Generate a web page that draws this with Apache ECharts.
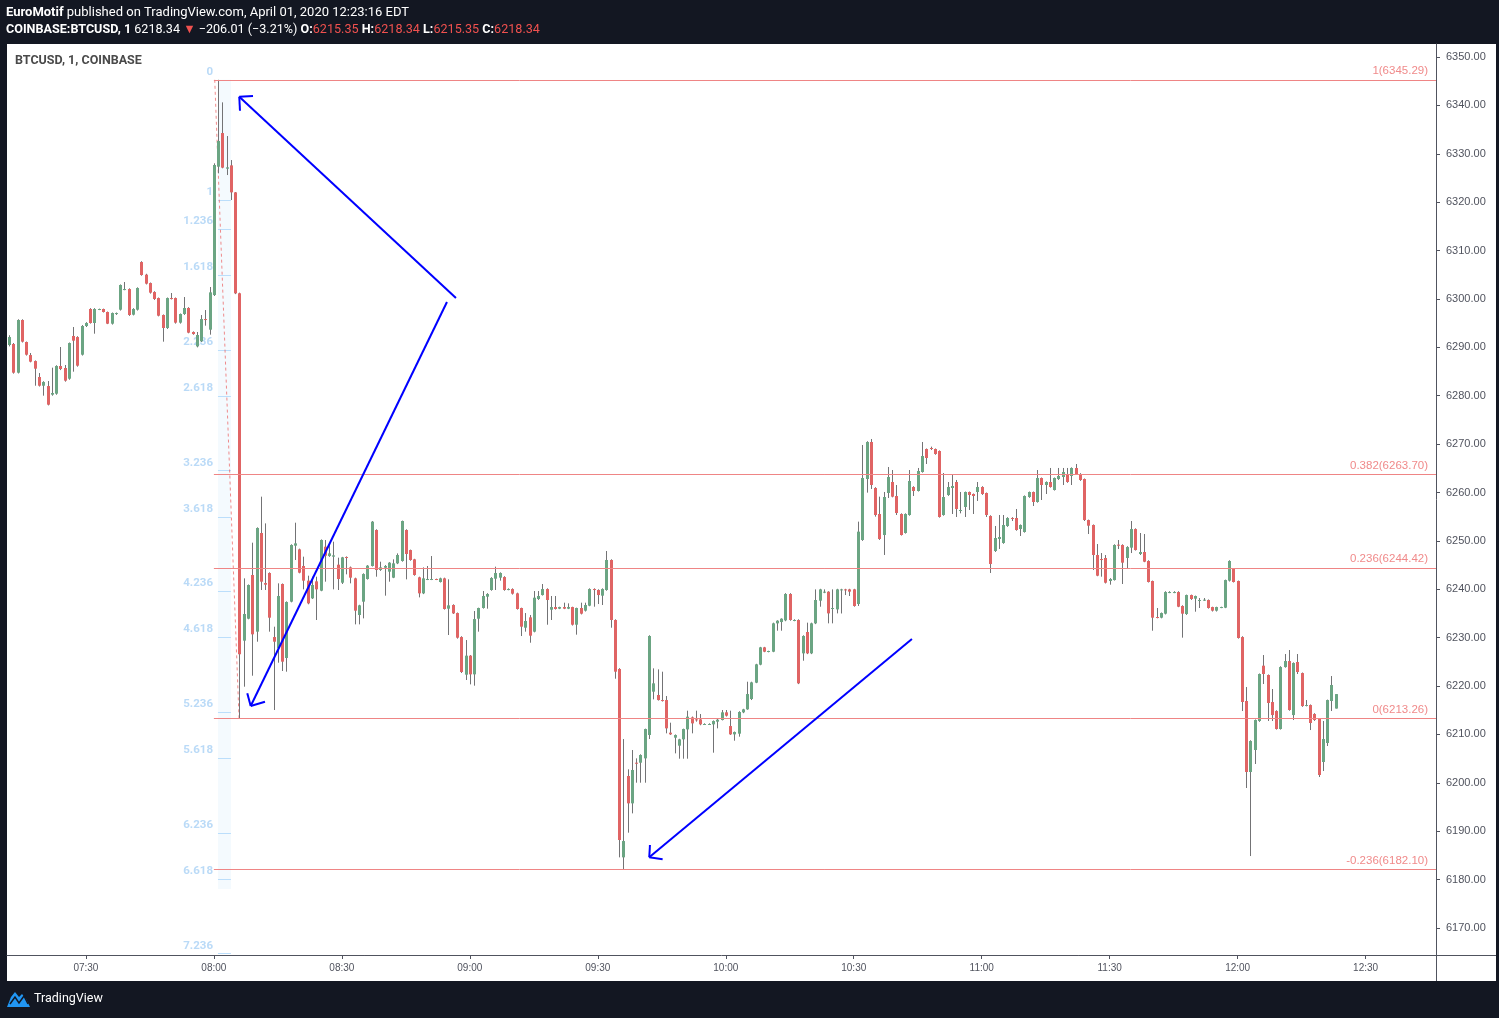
<!DOCTYPE html>
<html><head><meta charset="utf-8">
<script src="https://cdn.jsdelivr.net/npm/echarts@6/dist/echarts.min.js"></script>
<style>html,body{margin:0;padding:0;background:#131722;}#c{width:1499px;height:1018px;}</style>
</head><body><div id="c"></div>
<script>
// ---------- categories (1-minute bars, 07:12 .. 12:46) ----------
const startMinute = 7 * 60 + 12;
const slotCount = 335;
const times = [];
for (let i = 0; i < slotCount; i++) {
  const m = startMinute + i;
  times.push(String(Math.floor(m / 60)).padStart(2, '0') + ':' + String(m % 60).padStart(2, '0'));
}

// ---------- OHLC values (07:12 .. 12:23) ----------
const openP = [
6290.48,6290.69,6284.76,6295.65,6291.10,6288.41,6287.17,6283.87,6282.07,6282.00,
6280.22,6280.42,6286.14,6285.73,6283.52,6292.34,6292.13,6288.48,6294.41,6297.92,
6295.03,6297.78,6297.92,6297.30,6294.89,6296.89,6297.78,6301.91,6302.05,6296.75,
6297.78,6307.63,6305.02,6303.29,6301.43,6300.19,6296.68,6294.00,6300.19,6300.19,
6295.10,6296.89,6298.13,6293.17,6290.20,6291.24,6295.85,6293.65,6300.81,6327.34,
6334.29,6326.92,6327.61,6322.03,6301.16,6229.38,6233.92,6242.95,6231.24,6251.63,
6241.29,6243.36,6230.13,6227.79,6241.09,6225.80,6237.44,6249.01,6248.25,6244.81,
6241.78,6238.13,6241.64,6239.71,6248.80,6246.87,6246.74,6245.08,6241.36,6246.67,
6244.53,6242.26,6234.68,6237.44,6242.12,6244.81,6252.25,6243.98,6244.46,6243.64,
6242.40,6245.36,6245.84,6252.25,6248.11,6246.19,6242.47,6239.16,6242.05,6242.05,
6242.12,6241.50,6242.26,6235.99,6236.75,6235.09,6230.13,6222.35,6226.28,6222.42,
6233.92,6236.13,6238.47,6239.85,6242.19,6242.40,6242.53,6239.92,6240.05,6239.16,
6236.13,6232.06,6234.20,6231.24,6237.99,6238.81,6240.05,6235.78,6236.33,6235.99,
6236.33,6235.99,6236.33,6232.68,6236.13,6235.58,6236.61,6240.05,6239.85,6238.68,
6239.85,6246.05,6233.65,6223.52,6184.60,6201.41,6195.76,6204.16,6204.16,6205.06,
6209.88,6218.84,6218.15,6217.11,6217.11,6210.37,6209.33,6207.68,6208.99,6211.05,
6213.53,6213.12,6213.12,6212.09,6212.09,6212.09,6212.64,6212.98,6214.57,6211.74,
6210.02,6210.16,6214.57,6215.19,6217.32,6220.70,6224.42,6228.00,6227.10,6227.10,
6232.96,6233.23,6233.58,6239.02,6233.58,6233.65,6226.76,6231.17,6226.76,6232.96,
6237.64,6239.36,6239.50,6235.99,6235.85,6239.92,6239.98,6239.98,6239.99,6236.96,
6250.19,6262.79,6270.44,6260.93,6255.56,6251.22,6259.90,6262.17,6259.28,6255.56,
6251.63,6255.35,6261.14,6260.31,6264.24,6268.99,6269.20,6268.99,6268.58,6255.35,
6259.49,6260.93,6262.17,6256.25,6257.01,6260.11,6259.69,6260.11,6261.14,6259.90,
6255.15,6247.91,6250.39,6249.57,6253.08,6254.73,6254.73,6252.46,6251.84,6259.07,
6260.11,6258.04,6263.00,6261.55,6262.17,6260.52,6262.79,6263.21,6263.83,6263.41,
6265.07,6263.83,6262.79,6254.31,6253.28,6247.08,6246.25,6246.46,6241.71,6241.91,
6249.22,6249.15,6246.46,6248.60,6252.45,6247.29,6247.70,6245.84,6241.71,6234.27,
6234.13,6234.96,6239.30,6239.30,6239.43,6236.54,6234.89,6238.81,6238.06,6237.64,
6237.71,6237.78,6236.33,6235.58,6236.20,6236.20,6241.78,6244.19,6241.71,6230.13,
6216.91,6202.24,6206.78,6212.78,6224.21,6222.28,6216.70,6214.84,6211.12,6223.93,
6225.17,6214.01,6224.97,6222.69,6215.94,6216.08,6214.22,6213.19,6204.30,6208.23,
6216.91,6215.35];
const highP = [
6292.5,6290.9,6295.8,6295.8,6291.2,6288.83,6287.3,6284.69,6283.0,6283.04,
6285.8,6286.3,6290.07,6286.35,6291.0,6294.2,6292.3,6294.6,6295.2,6298.1,
6298.1,6298.0,6298.0,6297.4,6297.2,6297.2,6303.0,6303.5,6302.2,6298.1,
6302.4,6307.8,6305.2,6303.4,6301.6,6300.3,6296.8,6300.3,6301.23,6300.3,
6297.0,6300.4,6298.3,6293.3,6293.17,6296.68,6297.71,6302.47,6328.03,6345.29,
6340.63,6333.67,6328.71,6322.1,6301.3,6242.26,6241.0,6249.63,6252.8,6259.14,
6253.62,6243.5,6232.27,6241.23,6241.2,6237.5,6249.3,6253.76,6248.4,6246.74,
6242.81,6242.6,6242.6,6250.3,6250.18,6249.15,6249.84,6246.53,6246.7,6246.8,
6244.7,6242.4,6236.8,6243.3,6245.0,6254.1,6252.4,6245.7,6245.0,6245.6,
6246.19,6247.42,6254.2,6252.4,6248.2,6246.3,6242.6,6244.53,6244.81,6246.87,
6242.2,6242.4,6242.4,6242.06,6236.9,6235.2,6230.3,6229.51,6226.4,6235.51,
6236.2,6239.64,6239.2,6242.5,6244.67,6243.5,6242.7,6240.2,6240.2,6239.3,
6236.2,6235.09,6234.68,6239.64,6239.64,6241.09,6240.2,6238.61,6238.61,6236.4,
6237.23,6237.09,6236.4,6236.2,6237.23,6237.23,6240.2,6240.2,6240.0,6240.2,
6247.91,6246.2,6233.8,6223.7,6209.05,6202.79,6206.78,6205.06,6205.9,6211.2,
6230.5,6223.66,6223.45,6222.97,6217.94,6212.43,6210.0,6209.1,6211.2,6214.91,
6213.7,6214.91,6214.22,6212.3,6212.3,6212.9,6213.2,6215.05,6215.05,6214.91,
6210.6,6214.8,6215.3,6220.9,6220.9,6224.6,6228.1,6228.1,6227.3,6233.1,
6233.6,6234.0,6239.2,6239.2,6233.8,6233.8,6230.5,6233.1,6233.1,6239.98,
6240.1,6239.98,6239.6,6239.98,6240.1,6240.1,6240.1,6240.1,6240.1,6253.98,
6269.82,6270.6,6271.06,6261.1,6259.14,6260.11,6265.27,6264.65,6261.55,6255.7,
6255.7,6264.65,6261.3,6265.07,6270.44,6269.1,6269.48,6269.1,6268.7,6264.03,
6262.17,6263.62,6262.59,6260.11,6260.2,6260.2,6259.8,6262.17,6261.3,6260.0,
6255.3,6253.08,6255.35,6255.35,6254.9,6254.9,6256.59,6253.4,6259.4,6260.2,
6260.2,6264.65,6263.1,6262.3,6265.07,6263.1,6265.07,6265.07,6265.07,6265.2,
6265.89,6264.0,6262.9,6254.4,6253.4,6249.35,6247.49,6247.08,6242.3,6249.3,
6250.18,6249.3,6248.9,6254.11,6252.6,6251.63,6251.42,6246.0,6241.8,6236.13,
6235.2,6239.6,6239.6,6239.6,6239.6,6236.7,6238.9,6238.9,6238.7,6238.19,
6238.19,6237.9,6236.4,6236.4,6236.4,6242.0,6246.0,6244.3,6241.8,6230.3,
6219.80,6208.8,6213.1,6222.6,6226.41,6222.4,6219.39,6215.0,6224.1,6226.62,
6227.45,6224.9,6226.62,6222.8,6217.11,6216.2,6214.4,6213.3,6212.78,6217.2,
6222.07,6218.34];
const lowP = [
6290.2,6284.56,6284.6,6291.0,6288.3,6286.9,6282.07,6281.9,6280.01,6278.0,
6280.0,6280.2,6285.3,6282.9,6283.3,6284.97,6286.0,6288.3,6294.2,6294.9,
6292.82,6297.7,6297.2,6294.8,6294.7,6296.7,6297.6,6301.8,6296.5,6296.6,
6297.6,6304.8,6303.0,6301.1,6299.8,6296.4,6291.17,6293.8,6299.9,6294.9,
6294.9,6296.7,6292.9,6292.6,6290.0,6291.1,6294.48,6292.62,6300.61,6325.96,
6327.0,6325.61,6320.45,6301.0,6213.26,6219.87,6233.8,6222.14,6229.17,6239.85,
6239.85,6231.24,6215.05,6224.83,6223.11,6222.97,6237.3,6246.05,6243.3,6239.99,
6236.9,6238.0,6233.65,6239.6,6241.57,6246.7,6239.99,6239.85,6241.09,6243.09,
6241.23,6232.75,6232.75,6233.99,6242.0,6244.7,6242.6,6243.8,6238.68,6241.57,
6242.3,6245.2,6245.7,6242.05,6245.9,6242.8,6238.33,6239.0,6241.9,6241.9,
6241.9,6241.4,6235.8,6230.55,6234.9,6229.8,6222.7,6221.25,6220.35,6220.08,
6231.24,6236.0,6235.99,6239.7,6239.85,6241.78,6239.7,6239.8,6238.9,6235.8,
6230.34,6231.24,6228.96,6231.1,6237.8,6238.7,6232.68,6233.65,6235.8,6235.9,
6235.9,6235.9,6232.5,6230.62,6234.8,6235.4,6236.5,6236.40,6236.95,6236.75,
6239.7,6232.06,6221.52,6184.60,6182.0,6189.70,6193.69,6200.03,6200.03,6200.03,
6209.05,6217.25,6217.0,6216.8,6210.23,6209.9,6206.09,6204.99,6204.99,6204.99,
6210.23,6212.64,6211.9,6212.0,6212.0,6206.23,6211.26,6212.9,6213.7,6209.9,
6208.71,6209.54,6214.4,6215.1,6217.11,6220.6,6224.3,6227.0,6226.97,6227.0,
6231.44,6231.44,6233.4,6233.5,6233.4,6220.4,6225.24,6226.6,6226.6,6232.8,
6236.40,6239.2,6232.96,6232.96,6235.02,6235.0,6238.81,6238.61,6236.4,6236.55,
6250.0,6259.97,6260.73,6255.01,6250.2,6247.09,6258.87,6259.0,6255.35,6251.1,
6251.5,6255.2,6259.28,6260.2,6264.1,6265.89,6268.79,6267.8,6254.8,6255.2,
6259.3,6255.56,6254.94,6255.70,6254.94,6256.39,6255.56,6258.25,6259.5,6254.94,
6243.37,6247.71,6248.33,6249.4,6252.9,6254.11,6252.1,6251.01,6251.7,6258.9,
6257.21,6257.9,6258.45,6259.69,6261.0,6260.4,6262.6,6261.55,6262.0,6261.55,
6263.7,6262.4,6254.11,6251.42,6243.98,6242.7,6242.60,6241.2,6240.95,6241.8,
6248.32,6241.09,6244.19,6247.49,6248.0,6247.08,6245.6,6241.4,6231.44,6234.0,
6234.0,6234.8,6239.2,6239.2,6236.3,6230.0,6234.7,6237.8,6235.37,6236.13,
6237.6,6236.0,6235.4,6235.4,6236.1,6236.1,6241.6,6241.4,6229.8,6214.84,
6198.93,6184.87,6203.89,6212.6,6220.42,6212.78,6212.78,6211.0,6211.0,6223.8,
6214.9,6212.98,6222.49,6215.7,6215.8,6210.91,6212.8,6201.20,6202.44,6207.61,
6214.84,6215.35];
const closeP = [
6292.13,6284.76,6295.65,6291.17,6288.48,6287.04,6285.59,6282.07,6282.83,6278.15,
6280.56,6286.14,6285.52,6283.11,6290.89,6291.38,6286.21,6294.41,6295.03,6295.03,
6297.92,6297.92,6297.30,6294.89,6297.09,6297.09,6302.88,6302.05,6296.68,6297.92,
6302.26,6304.95,6303.16,6301.30,6299.99,6296.54,6294.00,6300.19,6300.06,6295.10,
6296.89,6298.13,6293.03,6292.75,6292.55,6295.85,6295.72,6301.36,6327.68,6332.64,
6327.13,6327.20,6322.03,6301.16,6226.56,6234.89,6240.88,6230.69,6252.66,6241.57,
6240.95,6234.13,6229.17,6238.61,6225.04,6237.37,6249.15,6249.49,6243.43,6241.78,
6237.09,6240.88,6239.99,6250.18,6246.94,6247.42,6247.01,6242.12,6246.60,6246.53,
6242.40,6235.58,6236.68,6243.15,6244.88,6253.97,6243.98,6244.53,6244.81,6245.50,
6245.36,6247.08,6254.11,6247.29,6246.05,6242.95,6239.16,6242.26,6242.12,6242.12,
6242.05,6242.26,6235.92,6236.68,6235.02,6229.99,6222.90,6226.28,6222.42,6233.85,
6236.13,6238.61,6239.02,6242.33,6243.36,6243.36,6239.85,6240.05,6239.09,6235.92,
6232.27,6233.44,6230.41,6238.26,6238.61,6240.05,6237.78,6236.33,6235.92,6236.33,
6235.99,6236.33,6232.68,6236.13,6234.96,6236.75,6240.05,6239.85,6238.81,6240.05,
6246.05,6233.65,6222.97,6188.18,6187.97,6195.76,6202.65,6204.03,6205.75,6211.12,
6230.34,6220.56,6217.11,6216.98,6211.26,6210.02,6209.88,6208.99,6211.12,6213.67,
6212.29,6212.98,6212.09,6212.16,6212.16,6212.77,6213.05,6214.57,6213.88,6210.02,
6210.50,6214.64,6215.19,6218.35,6220.76,6224.49,6228.00,6227.10,6227.24,6232.96,
6233.51,6233.92,6239.02,6233.65,6233.65,6220.56,6230.34,6226.76,6232.96,6237.78,
6239.98,6239.50,6235.02,6236.13,6239.98,6239.98,6239.85,6239.51,6236.55,6251.91,
6263.00,6270.44,6261.55,6255.35,6250.39,6259.07,6263.21,6259.14,6255.77,6251.22,
6255.56,6262.38,6260.31,6264.45,6267.55,6267.13,6269.06,6267.96,6254.94,6259.07,
6261.14,6261.35,6256.59,6256.39,6260.11,6259.49,6259.28,6261.14,6259.69,6255.35,
6245.23,6250.60,6250.81,6253.29,6254.73,6254.53,6252.25,6253.29,6259.28,6260.11,
6258.04,6263.00,6261.55,6262.17,6261.14,6263.00,6263.41,6264.24,6262.17,6265.07,
6263.83,6262.59,6254.32,6253.14,6247.08,6242.81,6246.12,6241.36,6242.12,6249.15,
6249.01,6245.50,6248.73,6252.45,6248.11,6247.70,6245.70,6241.50,6234.13,6234.13,
6235.09,6239.43,6239.43,6239.43,6236.40,6234.96,6238.81,6237.99,6238.61,6237.78,
6237.85,6236.13,6235.58,6236.33,6236.33,6241.91,6245.84,6241.50,6229.93,6216.70,
6202.24,6208.64,6212.98,6222.49,6222.49,6216.50,6214.01,6211.12,6223.93,6225.17,
6215.05,6224.76,6222.90,6215.87,6216.08,6212.36,6212.98,6201.62,6209.05,6217.11,
6220.22,6218.34];

// ---------- price axis range ----------
const yMin = 6164.42, yMax = 6352.69;

// ---------- Fib retracement (drawn on the right) ----------
const fibLow = 6213.26, fibHigh = 6345.29;
const fibLevels = [1, 0.382, 0.236, 0, -0.236];
const fibStartIdx = 48.0;

// ---------- Fib extension labels (left, light blue) ----------
const extTop = 6345.29, extUnit = 24.96;
const extLevels = [0, 1, 1.236, 1.618, 2.236, 2.618, 3.236, 3.618, 4.236, 4.618, 5.236, 5.618, 6.236, 6.618, 7.236];
const extIdx = [48.96, 52.0];
const fibTrend = [[48.2, 6345.29], [53.9, 6213.26]];

// ---------- blue arrows (bar index, price) ----------
const arrowSegs = [
  [[104.75, 6300.2], [53.95, 6341.8]], [[53.95, 6341.8], [57.17, 6341.94]], [[53.95, 6341.8], [54.12, 6338.9]],
  [[102.64, 6299.37], [56.63, 6215.88]], [[56.63, 6215.88], [59.98, 6216.77]], [[56.63, 6215.88], [55.83, 6218.5]],
  [[211.64, 6229.72], [150.06, 6184.61]], [[150.06, 6184.61], [153.2, 6184.2]], [[150.06, 6184.61], [150.23, 6187.15]]
];

const UP = '#6ba583', DOWN = '#e06464', WICK = '#737375';
const AXIS = '#50535e';
const candleData = openP.map((o, i) => [i, o, closeP[i], lowP[i], highP[i]]);
const halfHour = (idx, v) => v.slice(3) === '00' || v.slice(3) === '30';

const chart = echarts.init(document.getElementById('c'), null, { renderer: 'canvas', width: 1499, height: 1018 });
chart.setOption({
  backgroundColor: '#131722',
  animation: false,
  title: [
    { left: 6, top: 6, padding: 0, text: '{b|EuroMotif} published on TradingView.com, April 01, 2020 12:23:16 EDT',
      textStyle: { color: '#ffffff', fontSize: 13, fontWeight: 'normal', fontFamily: 'Roboto',
        rich: { b: { color: '#ffffff', fontSize: 13, fontWeight: 'bold', fontFamily: 'Roboto' } } } },
    { left: 6, top: 23, padding: 0, text: '{b|COINBASE:BTCUSD, 1} 6218.34 {r|▼} −206.01 (−3.21%) {b|O:}{r|6215.35} {b|H:}{r|6218.34} {b|L:}{r|6215.35} {b|C:}{r|6218.34}',
      textStyle: { color: '#ffffff', fontSize: 12.6, fontWeight: 'normal', fontFamily: 'Roboto',
        rich: { b: { color: '#ffffff', fontSize: 12.6, fontWeight: 'bold', fontFamily: 'Roboto' },
                r: { color: '#f0514f', fontSize: 12.6, fontFamily: 'Roboto' } } } }
  ],
  graphic: [
    { type: 'rect', z: -10, silent: true, shape: { x: 7, y: 44, width: 1489, height: 937 }, style: { fill: '#ffffff' } },
    { type: 'line', z: 10, silent: true, shape: { x1: 1436.5, y1: 955, x2: 1436.5, y2: 981 }, style: { stroke: AXIS, lineWidth: 1 } },
    { type: 'line', z: 10, silent: true, shape: { x1: 1436, y1: 955.5, x2: 1496, y2: 955.5 }, style: { stroke: AXIS, lineWidth: 1 } },
    { type: 'text', z: 10, silent: true, x: 15, y: 54, style: { text: 'BTCUSD, 1, COINBASE', fill: '#4a4a4a', font: 'bold 12.5px Roboto' } },
    { type: 'polygon', z: 10, silent: true, shape: { points: [[7, 1007], [11, 997], [15, 992], [19, 997], [22, 994], [26, 999], [30, 1007]] }, style: { fill: '#2196f3' } },
    { type: 'polyline', z: 11, silent: true, shape: { points: [[10, 1004], [15, 997], [19, 1003], [24, 996], [28, 1004]] }, style: { stroke: '#131722', lineWidth: 1.5, fill: null } },
    { type: 'text', z: 10, silent: true, x: 34, y: 992, style: { text: 'TradingView', fill: '#ffffff', font: '12.5px Roboto' } }
  ],
  grid: { left: 7, right: 63, top: 44, bottom: 63, containLabel: false },
  xAxis: [
    { type: 'category', data: times, boundaryGap: true,
      axisLine: { show: true, onZero: false, lineStyle: { color: AXIS } },
      axisTick: { show: true, alignWithLabel: true, interval: halfHour, length: 4, lineStyle: { color: AXIS } },
      axisLabel: { interval: halfHour, color: AXIS, fontSize: 10, fontFamily: 'Liberation Sans', margin: 8 },
      splitLine: { show: false } },
    { type: 'value', min: -0.5, max: slotCount - 0.5, show: false, axisLine: { onZero: false } }
  ],
  yAxis: {
    type: 'value', position: 'right', min: yMin, max: yMax, splitNumber: 19, minInterval: 10, maxInterval: 10,
    axisLine: { show: true, onZero: false, lineStyle: { color: AXIS } },
    axisTick: { show: true, length: 4, lineStyle: { color: AXIS } },
    axisLabel: { color: AXIS, fontSize: 11, fontFamily: 'Liberation Sans', margin: 10,
      formatter: v => v.toFixed(2), showMinLabel: false, showMaxLabel: false },
    splitLine: { show: false }
  },
  series: [
    { // fib extension ticks, band, dashed trend
      type: 'line', xAxisIndex: 1, yAxisIndex: 0, data: [], z: 1, silent: true,
      markArea: { silent: true, itemStyle: { color: 'rgba(33,150,243,0.05)' },
        data: [[{ coord: [extIdx[0], extTop] }, { coord: [extIdx[1], extTop - 6.7 * extUnit] }]] },
      markLine: { silent: true, z: 1, symbol: ['none', 'none'], animation: false,
        label: { show: false },
        data: extLevels.filter(L => L > 0).map(L => [
          { coord: [extIdx[0], extTop - L * extUnit], lineStyle: { color: '#bbdefb', width: 1, type: 'solid' } },
          { coord: [extIdx[1], extTop - L * extUnit] }]).concat([[
          { coord: fibTrend[0], lineStyle: { color: 'rgba(235,90,90,0.7)', width: 1, type: [3, 3] } },
          { coord: fibTrend[1] }]]) }
    },
    { // fib extension labels
      type: 'scatter', xAxisIndex: 1, yAxisIndex: 0, z: 1, silent: true, symbolSize: 0,
      data: extLevels.map(L => [extIdx[0], extTop - L * extUnit, L]),
      label: { show: true, position: 'left', distance: 5, offset: [0, -8],
        formatter: p => String(p.value[2]), color: '#a9d1f5', fontSize: 11.5, fontWeight: 'bold', fontFamily: 'Roboto' }
    },
    { // candles
      type: 'custom', xAxisIndex: 0, yAxisIndex: 0, z: 2, silent: true,
      data: candleData, encode: { x: 0, y: [1, 2, 3, 4] },
      renderItem: (params, api) => {
        const i = api.value(0), o = api.value(1), c = api.value(2), l = api.value(3), h = api.value(4);
        const pO = api.coord([i, o]), pC = api.coord([i, c]), pL = api.coord([i, l]), pH = api.coord([i, h]);
        const x = Math.round(pO[0]);
        const top = Math.min(pO[1], pC[1]), bot = Math.max(pO[1], pC[1]);
        return { type: 'group', children: [
          { type: 'line', shape: { x1: x + 0.5, y1: pH[1], x2: x + 0.5, y2: pL[1] }, style: { stroke: WICK, lineWidth: 1 } },
          { type: 'rect', shape: { x: x - 1, y: top, width: 3, height: Math.max(1, bot - top) }, style: { fill: c >= o ? UP : DOWN } }
        ] };
      }
    },
    { // fib retracement levels
      type: 'line', xAxisIndex: 1, yAxisIndex: 0, data: [], z: 3, silent: true,
      markLine: { silent: true, z: 3, symbol: ['none', 'none'], animation: false,
        lineStyle: { color: '#ef8585', width: 1, type: 'solid' },
        data: fibLevels.map(L => {
          const price = fibLow + L * (fibHigh - fibLow);
          return [
            { coord: [fibStartIdx, price],
              label: { show: true, position: 'insideEndTop', distance: [8, 3], formatter: L + '(' + price.toFixed(2) + ')',
                color: '#f08a8a', fontSize: 11.5, fontFamily: 'Liberation Sans' } },
            { coord: [slotCount - 0.5, price] }];
        }) }
    },
    { // blue arrows
      type: 'line', xAxisIndex: 1, yAxisIndex: 0, data: [], z: 4, silent: true,
      markLine: { silent: true, z: 4, symbol: ['none', 'none'], animation: false, label: { show: false },
        lineStyle: { color: '#0000ff', width: 2, type: 'solid' },
        data: arrowSegs.map(s => [{ coord: s[0] }, { coord: s[1] }]) }
    }
  ]
});
</script></body></html>
